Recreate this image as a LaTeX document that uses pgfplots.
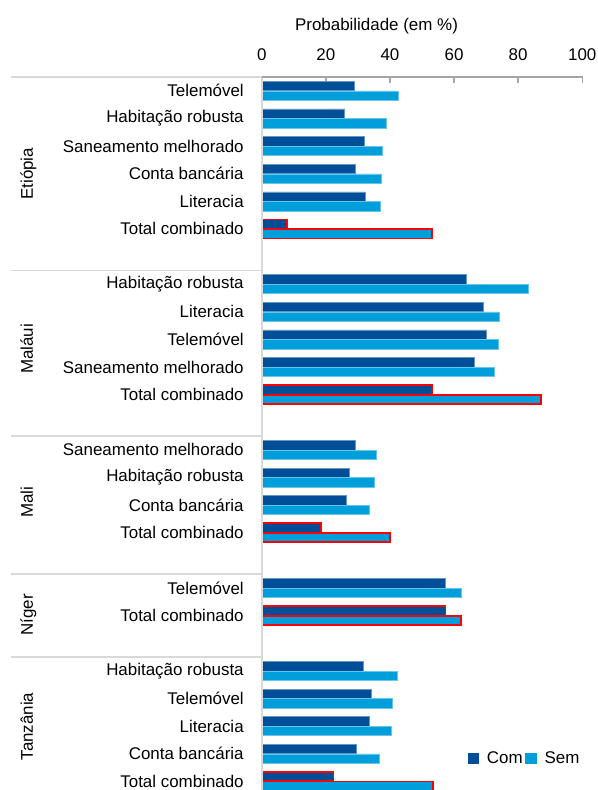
\documentclass[border=0pt]{standalone}
\usepackage{fontspec}
\setmainfont{Liberation Sans}
\usepackage{pgfplots}
\pgfplotsset{compat=1.18}
\definecolor{Com}{RGB}{0,78,152}
\definecolor{Sem}{RGB}{0,158,219}
\definecolor{sep}{RGB}{217,217,217}
\definecolor{axgray}{RGB}{166,166,166}
\newcommand{\fs}{\fontsize{12.7}{14}\selectfont}
\begin{document}
\begin{tikzpicture}
\begin{axis}[
  at={(196.3pt,534.75pt)}, anchor=north west,
  scale only axis, width=240.4pt, height=534.75pt,
  xmin=0, xmax=100, ymin=-0.5, ymax=25.31,
  y dir=reverse,
  axis line style={draw=none},
  xtick={0,20,40,60,80,100},
  xtick pos=right, xticklabel pos=right,
  tick align=inside,
  x tick style={axgray, line width=1.1pt},
  major tick length=4.5pt,
  xticklabel style={font=\fs, yshift=9pt},
  /pgf/number format/assume math mode=true,
  ytick={0,1,2,3,4,5,7,8,9,10,11,13,14,15,16,18,19,21,22,23,24,25},
  yticklabels={Telemóvel,Habitação robusta,Saneamento melhorado,Conta bancária,Literacia,Total combinado,
    Habitação robusta,Literacia,Telemóvel,Saneamento melhorado,Total combinado,
    Saneamento melhorado,Habitação robusta,Conta bancária,Total combinado,
    Telemóvel,Total combinado,
    Habitação robusta,Telemóvel,Literacia,Conta bancária,Total combinado},
  y tick style={draw=none},
  yticklabel style={font=\fs, anchor=east, xshift=-10pt},
  legend style={at={(axis cs:64.2,24.16)}, anchor=west, draw=none, fill=none,
    inner sep=0pt, font=\fs, legend columns=2,
    /tikz/every odd column/.append style={column sep=4pt}},
]
% Com (regular)
\addplot[xbar, bar width=0.34, bar shift=-0.175, fill=Com, draw=Com!60!white, line width=0.4pt, forget plot]
  coordinates {(28.8,0) (25.9,1) (32.1,2) (29.2,3) (32.2,4)
               (63.9,7) (69.0,8) (70.2,9) (66.3,10)
               (29.2,13) (27.2,14) (26.3,15)
               (57.4,18)
               (31.7,21) (34.2,22) (33.7,23) (29.4,24)};
% Sem (regular)
\addplot[xbar, bar width=0.34, bar shift=0.175, fill=Sem, draw=Sem!60!white, line width=0.4pt, forget plot]
  coordinates {(42.5,0) (39.0,1) (37.6,2) (37.4,3) (37.0,4)
               (83.1,7) (74.0,8) (73.8,9) (72.5,10)
               (35.7,13) (35.0,14) (33.5,15)
               (62.2,18)
               (42.2,21) (40.6,22) (40.5,23) (36.8,24)};
% Totals with red outline
\addplot[xbar, bar width=0.34, bar shift=-0.175, fill=Com, draw=red, line width=1.3pt, forget plot]
  coordinates {(7.9,5) (53.1,11) (18.6,16) (57.3,19) (22.4,25)};
\addplot[xbar, bar width=0.34, bar shift=0.175, fill=Sem, draw=red, line width=1.3pt, forget plot]
  coordinates {(53.2,5) (87.1,11) (40.1,16) (62.1,19) (53.4,25)};
\addlegendimage{legend image code/.code={\fill[Com] (0pt,-4pt) rectangle (8pt,4pt);}}
\addlegendentry{Com}
\addlegendimage{legend image code/.code={\fill[Sem] (0pt,-4pt) rectangle (8pt,4pt);}}
\addlegendentry{Sem}
\end{axis}
% axis lines and separators (px -> pt: x*0.75, (790-y)*0.75)
\draw[sep, line width=1.5pt] (196.3pt,0pt) -- (196.3pt,534.75pt);
\draw[sep, line width=1.1pt] (8.25pt,534.75pt) -- (196.3pt,534.75pt);
\draw[axgray, line width=1.1pt] (196.3pt,534.75pt) -- (437.2pt,534.75pt);
\foreach \yy in {6.5,12.5,17.5,20.5}{
  \draw[sep, line width=1.1pt] (8.25pt,{534.75pt-(\yy+0.5)*20.715pt}) -- (196.3pt,{534.75pt-(\yy+0.5)*20.715pt});
}
\node[font=\fs, anchor=base] at (282.4pt,569.6pt) {Probabilidade (em \%)};
\node[font=\fs, anchor=base, rotate=90] at (24.75pt,462.2pt) {Etiópia};
\node[font=\fs, anchor=base, rotate=90] at (24.75pt,330.75pt) {Maláui};
\node[font=\fs, anchor=base, rotate=90] at (24.75pt,216pt) {Mali};
\node[font=\fs, anchor=base, rotate=90] at (24.75pt,131.25pt) {Níger};
\node[font=\fs, anchor=base, rotate=90] at (24.75pt,47.6pt) {Tanzânia};
\pgfresetboundingbox
\path[use as bounding box] (0pt,0pt) rectangle (447.75pt,592.5pt);
\end{tikzpicture}
\end{document}
